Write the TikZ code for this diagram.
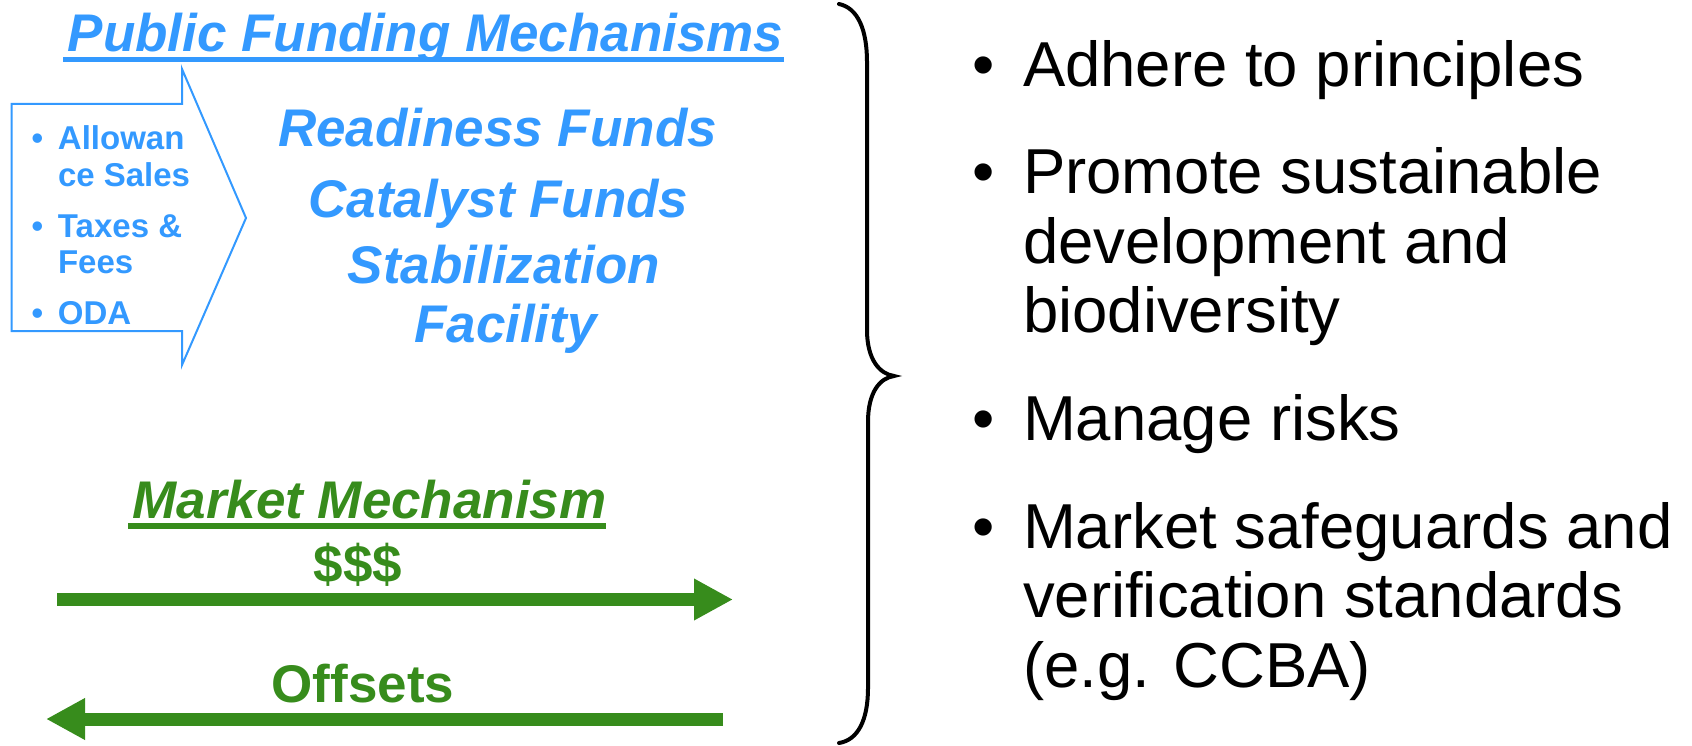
\documentclass[tikz,border=0pt]{standalone}
\usepackage{fontspec}
\setmainfont{Liberation Sans}
\usetikzlibrary{arrows.meta}
\definecolor{pubblue}{RGB}{51,153,255}
\definecolor{mktgreen}{RGB}{55,140,28}
\begin{document}
\begin{tikzpicture}[x=1pt,y=-1pt,
  txt/.style={inner sep=0pt, outer sep=0pt},
  bluehead/.style={txt, anchor=base, text=pubblue, font=\fontsize{53}{60}\selectfont\bfseries\itshape},
  greenhead/.style={txt, anchor=base, text=mktgreen, font=\fontsize{53}{60}\selectfont\bfseries\itshape},
  greenlabel/.style={txt, anchor=base, text=mktgreen, font=\fontsize{53}{60}\selectfont\bfseries},
  leftitem/.style={txt, anchor=base west, text=pubblue, font=\fontsize{33}{36.5}\selectfont\bfseries},
  rightitem/.style={txt, anchor=base west, text=black, font=\fontsize{63.5}{69.5}\selectfont},
  ulineblue/.style={fill=pubblue, draw=none},
  ulinegreen/.style={fill=mktgreen, draw=none},
  bluearrow/.style={draw=pubblue, line width=2pt, line join=miter},
  greenarrow/.style={draw=mktgreen, line width=13pt, -{Triangle[length=39pt,width=39pt]}},
  bracestyle/.style={draw=black, line width=4pt, line cap=round}
]
\useasboundingbox (0,0) rectangle (1692,746);

% Public funding heading
\node[bluehead] (pubtitle) at (425.5,52) {Public Funding Mechanisms};
\fill[ulineblue] (63,57) rectangle (784,62);

% block arrow
\draw[bluearrow] (11.7,104) -- (182,104) -- (182,69) -- (246,218) -- (182,365) -- (182,331) -- (11.7,331) -- cycle;

% left items
\node[leftitem] (srcA) at (31.7,150) {\vtop{\hbox{\makebox[26.3pt][l]{•}Allowan}\hbox{\hspace{26.3pt}ce Sales}}};
\node[leftitem] (srcB) at (31.7,237) {\vtop{\hbox{\makebox[26.3pt][l]{•}Taxes \&}\hbox{\hspace{26.3pt}Fees}}};
\node[leftitem] (srcC) at (31.7,324) {\makebox[26.3pt][l]{•}ODA};

% funds
\node[bluehead] (ready) at (497.5,147) {Readiness Funds};
\node[bluehead] (catal) at (498.5,218) {Catalyst Funds};
\node[bluehead] (stab) at (504,283) {Stabilization};
\node[bluehead] (facil) at (505.5,342) {Facility};

% market mechanism
\node[greenhead] (mkt) at (369.5,518) {Market Mechanism};
\fill[ulinegreen] (128,523) rectangle (606,529);
\node[greenlabel] (money) at (358,582) {\$\$\$};
\coordinate (mA) at (57,599.5);
\coordinate (mB) at (733,599.5);
\draw[greenarrow] (mA) -- (mB);
\node[greenlabel] (offs) at (363,702) {Offsets};
\coordinate (oA) at (723,719);
\coordinate (oB) at (46,719);
\draw[greenarrow] (oA) -- (oB);

% brace
\draw[bracestyle] (839,4) .. controls (858,8) and (867,30) .. (867,62)
  -- (867,330) .. controls (867,360) and (880,374) .. (894,376)
  .. controls (880,378) and (868,392) .. (868,422)
  -- (868,688) .. controls (868,720) and (858,740) .. (839,743);

% right items
\node[rightitem] (p1) at (972,87) {\makebox[51pt][l]{•}Adhere to principles};
\node[rightitem] (p2) at (972,194) {\vtop{\hbox{\makebox[51pt][l]{•}Promote sustainable}\hbox{\hspace{51pt}development and}\hbox{\hspace{51pt}biodiversity}}};
\node[rightitem] (p3) at (972,440) {\makebox[51pt][l]{•}Manage risks};
\node[rightitem] (p4) at (972,548) {\vtop{\hbox{\makebox[51pt][l]{•}Market safeguards and}\hbox{\hspace{51pt}verification standards}\hbox{\hspace{51pt}(e.g. CCBA)}}};
\end{tikzpicture}
\end{document}
